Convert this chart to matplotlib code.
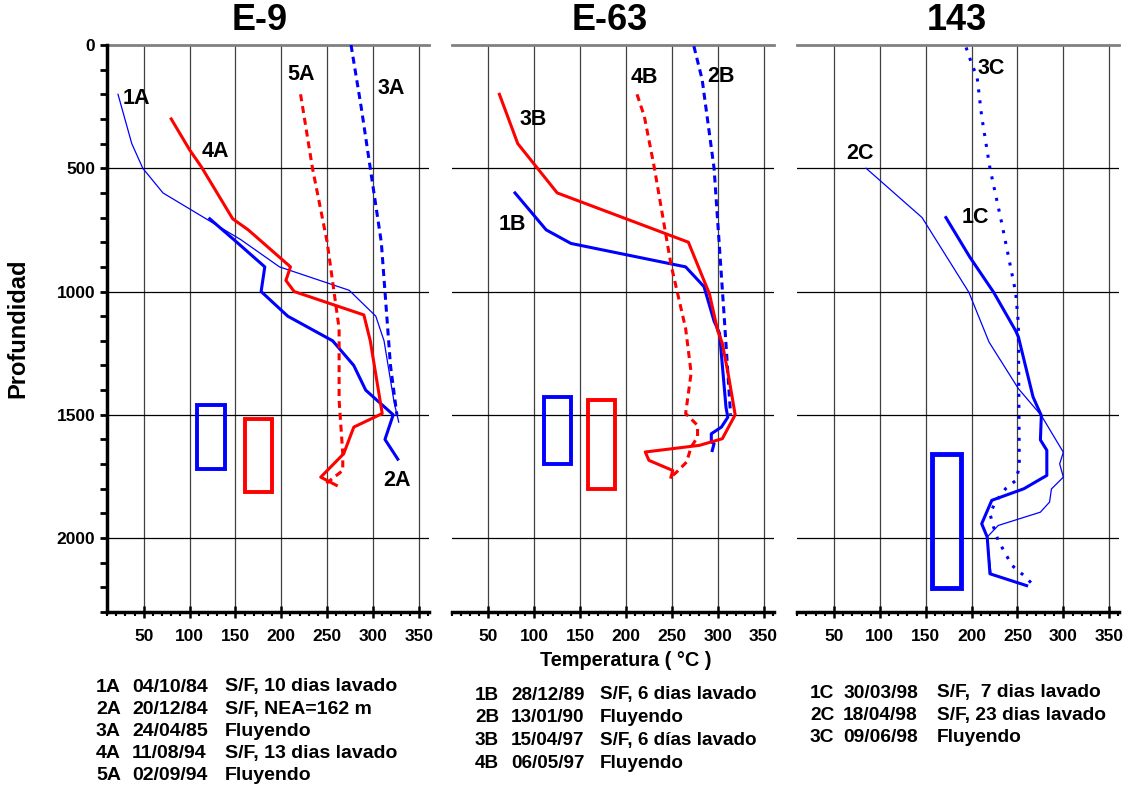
import matplotlib
matplotlib.use("Agg")
import matplotlib.pyplot as plt
from matplotlib.patches import Rectangle
from matplotlib.ticker import MultipleLocator

plt.rcParams['font.family'] = ['Liberation Sans', 'DejaVu Sans']
plt.rcParams['font.weight'] = 'bold'

# ---- E-9 ----
t_1a = [22, 37, 49, 71, 156, 198, 274, 303, 312, 323, 328]
d_1a = [200, 400, 500, 600, 790, 900, 995, 1100, 1200, 1450, 1530]
t_2a = [122, 150, 182, 178, 207, 256, 279, 292, 322, 313, 327]
d_2a = [705, 795, 900, 1000, 1100, 1200, 1300, 1400, 1500, 1600, 1680]
t_3a = [276, 287, 297, 309, 316, 319, 326]
d_3a = [0, 250, 500, 800, 1150, 1300, 1500]
t_4a = [80, 100, 113, 147, 164, 210, 205, 214, 290, 297, 310, 279, 268, 243, 260]
d_4a = [300, 425, 495, 705, 750, 900, 955, 1000, 1095, 1200, 1495, 1550, 1658, 1753, 1786]
t_5a = [221, 234, 250, 263, 263, 267, 267, 245]
d_5a = [200, 500, 800, 1150, 1440, 1658, 1726, 1790]
box_e9_blue = (108, 139, 1462, 1721)
box_e9_red = (160, 190, 1516, 1813)

# ---- E-63 ----
t_1b = [79, 113, 140, 265, 285, 296, 302, 309, 311, 304, 293, 293, 296, 294]
d_1b = [600, 750, 805, 900, 980, 1120, 1170, 1470, 1510, 1550, 1577, 1610, 1617, 1645]
t_2b = [274, 283, 296, 307, 314]
d_2b = [5, 140, 500, 1100, 1500]
t_3b = [62, 82, 125, 268, 291, 300, 305, 312, 319, 305, 280, 221, 225, 251, 249]
d_3b = [200, 400, 600, 800, 1010, 1160, 1210, 1347, 1500, 1597, 1624, 1651, 1685, 1726, 1753]
t_4b = [212, 220, 231, 249, 265, 271, 265, 278, 278, 271, 266, 255, 251]
d_4b = [200, 290, 500, 890, 1150, 1330, 1495, 1543, 1590, 1631, 1692, 1733, 1746]
box_e63_blue = (111, 140, 1428, 1699)
box_e63_red = (159, 188, 1439, 1801)

# ---- 143 ----
t_1c = [172, 198, 224, 248, 251, 267, 276, 275, 282, 282, 257, 222, 211, 217, 220, 260]
d_1c = [700, 860, 1003, 1159, 1184, 1428, 1503, 1602, 1644, 1746, 1800, 1847, 1942, 1996, 2145, 2193]
t_2c = [85, 146, 197, 219, 251, 276, 300, 296, 300, 287, 285, 275, 229, 217, 221]
d_2c = [500, 700, 1003, 1205, 1394, 1503, 1652, 1699, 1753, 1801, 1854, 1895, 1949, 1996, 2140]
t_3c = [194, 200, 206, 211, 220, 233, 248, 251, 252, 248, 237, 226, 220, 224, 229, 237, 244, 257, 266]
d_3c = [10, 75, 130, 290, 500, 725, 1003, 1131, 1713, 1767, 1800, 1854, 1901, 1956, 2010, 2064, 2111, 2152, 2186]
box_143_blue = (157, 188, 1661, 2203)

titles = ["E-9", "E-63", "143"]
legend_e9 = [("1A", "04/10/84", "S/F, 10 dias lavado"),
             ("2A", "20/12/84", "S/F, NEA=162 m"),
             ("3A", "24/04/85", "Fluyendo"),
             ("4A", "11/08/94", "S/F, 13 dias lavado"),
             ("5A", "02/09/94", "Fluyendo")]
legend_e63 = [("1B", "28/12/89", "S/F, 6 dias lavado"),
              ("2B", "13/01/90", "Fluyendo"),
              ("3B", "15/04/97", "S/F, 6 días lavado"),
              ("4B", "06/05/97", "Fluyendo")]
legend_143 = [("1C", "30/03/98", "S/F,  7 dias lavado"),
              ("2C", "18/04/98", "S/F, 23 dias lavado"),
              ("3C", "09/06/98", "Fluyendo")]

BLUE = '#0000ff'
RED = '#ff0000'
THICK = 2.2
THIN = 0.9
DASH = (0, (2.3, 1.6))
DOT = (0, (1.0, 2.6))

W, H = 1126, 790
fig = plt.figure(figsize=(W / 100, H / 100), dpi=100)

lefts = [107, 451.7, 797.3]
title_x = [0.475, 0.49, 0.495]
width = 322
ax_bottom, ax_top = 612, 45
axes = []
for i, l in enumerate(lefts):
    ax = fig.add_axes([l / W, 1 - ax_bottom / H, width / W, (ax_bottom - ax_top) / H])
    ax.set_xlim(10, 361)
    ax.set_ylim(2300, 0)
    for x in range(50, 351, 50):
        ax.axvline(x, color='#404040', lw=0.9, zorder=1)
    for y in [500, 1000, 1500, 2000]:
        ax.axhline(y, color='black', lw=0.9, zorder=1)
    ax.axhline(0, color='#808080', lw=2.0, zorder=1, clip_on=False)
    for s in ['top', 'right']:
        ax.spines[s].set_visible(False)
    ax.spines['bottom'].set_linewidth(2.5)
    ax.xaxis.set_major_locator(MultipleLocator(50))
    ax.xaxis.set_minor_locator(MultipleLocator(10))
    ax.tick_params(axis='x', which='major', direction='inout', length=9, width=1.8,
                   labelsize=12.5, pad=8)
    ax.tick_params(axis='x', which='minor', direction='out', length=3, width=1.5)
    for lab in ax.get_xticklabels():
        lab.set_fontweight('bold')
    if i == 0:
        ax.spines['left'].set_linewidth(2.5)
        ax.yaxis.set_major_locator(MultipleLocator(500))
        ax.yaxis.set_minor_locator(MultipleLocator(100))
        ax.tick_params(axis='y', which='both', direction='out', length=5, width=2,
                       labelsize=12.5)
        ax.set_yticks([0, 500, 1000, 1500, 2000])
        ax.set_ylabel("Profundidad", fontsize=17, fontweight='bold')
        ax.yaxis.set_label_coords(-0.24, 0.5)
    else:
        ax.spines['left'].set_visible(False)
        ax.set_yticks([])
    ax.text(title_x[i], 1.012, titles[i], transform=ax.transAxes, ha='center',
            va='bottom', fontsize=26, fontweight='bold')
    axes.append(ax)

ax1, ax2, ax3 = axes


def box(ax, b, color, lw):
    ax.add_patch(Rectangle((b[0], b[2]), b[1] - b[0], b[3] - b[2], fill=False,
                           edgecolor=color, lw=lw, zorder=3))


def lab(ax, x, y, s):
    ax.text(x, y, s, fontsize=15.5, fontweight='bold', va='center', ha='left', zorder=5)


# E-9
ax1.plot(t_1a, d_1a, color=BLUE, lw=THIN, zorder=4)
ax1.plot(t_2a, d_2a, color=BLUE, lw=THICK, zorder=4)
ax1.plot(t_3a, d_3a, color=BLUE, lw=THICK, ls=DASH, zorder=4)
ax1.plot(t_4a, d_4a, color=RED, lw=THICK, zorder=4)
ax1.plot(t_5a, d_5a, color=RED, lw=THICK, ls=DASH, zorder=4)
box(ax1, box_e9_blue, BLUE, 2.8)
box(ax1, box_e9_red, RED, 2.8)
lab(ax1, 27, 215, "1A")
lab(ax1, 113, 430, "4A")
lab(ax1, 207, 118, "5A")
lab(ax1, 305, 176, "3A")
lab(ax1, 311, 1766, "2A")

# E-63
ax2.plot(t_1b, d_1b, color=BLUE, lw=THICK, zorder=4)
ax2.plot(t_2b, d_2b, color=BLUE, lw=THICK, ls=DASH, zorder=4)
ax2.plot(t_3b, d_3b, color=RED, lw=THICK, zorder=4)
ax2.plot(t_4b, d_4b, color=RED, lw=THICK, ls=DASH, zorder=4)
box(ax2, box_e63_blue, BLUE, 2.8)
box(ax2, box_e63_red, RED, 2.8)
lab(ax2, 205, 133, "4B")
lab(ax2, 289, 126, "2B")
lab(ax2, 84, 302, "3B")
lab(ax2, 61, 728, "1B")

# 143
ax3.plot(t_1c, d_1c, color=BLUE, lw=THICK, zorder=4)
ax3.plot(t_2c, d_2c, color=BLUE, lw=THIN, zorder=4)
ax3.plot(t_3c, d_3c, color=BLUE, lw=THICK, ls=DOT, zorder=4)
box(ax3, box_143_blue, BLUE, 3.5)
lab(ax3, 207, 95, "3C")
lab(ax3, 63, 440, "2C")
lab(ax3, 189, 698, "1C")

fig.text(626 / W, 1 - 660 / H, "Temperatura ( °C )", ha='center', va='center',
         fontsize=14.3, fontweight='bold')


def legend_block(rows, x0, x1, x2, y0, dy, fs):
    for k, (a, b, c) in enumerate(rows):
        y = 1 - (y0 + k * dy) / H
        fig.text(x0 / W, y, a, fontsize=fs, fontweight='bold', va='center')
        fig.text(x1 / W, y, b, fontsize=fs, fontweight='bold', va='center')
        fig.text(x2 / W, y, c, fontsize=fs, fontweight='bold', va='center')


legend_block(legend_e9, 96, 132, 225, 687, 22.2, 14)
legend_block(legend_e63, 475, 511, 600, 695, 22.7, 13.6)
legend_block(legend_143, 810, 843, 937, 693, 22.3, 13.8)

fig.savefig("out.png", dpi=100)
